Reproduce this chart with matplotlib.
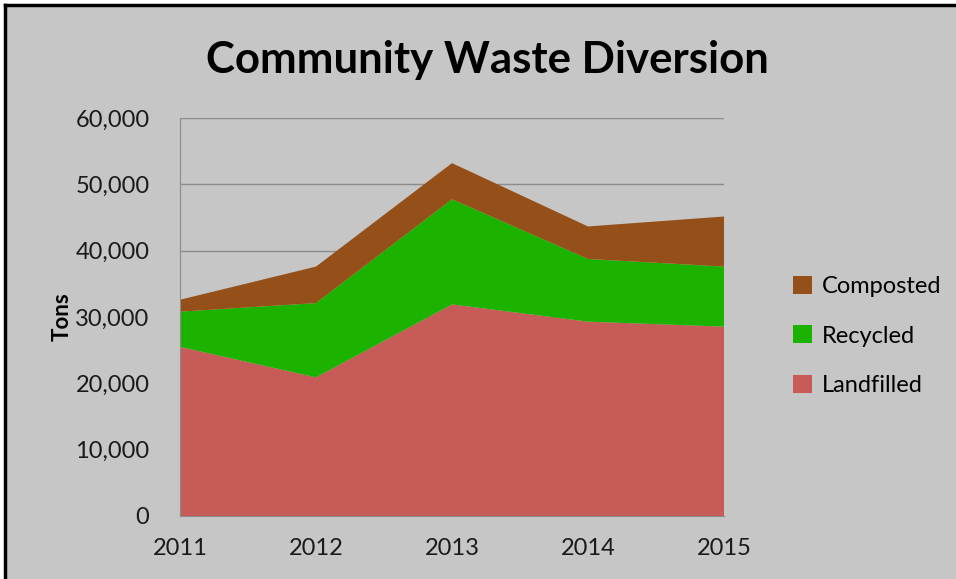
import matplotlib
matplotlib.use("Agg")
import matplotlib.pyplot as plt
from matplotlib.patches import Patch
from matplotlib.lines import Line2D
from matplotlib.ticker import FuncFormatter

years = [2011, 2012, 2013, 2014, 2015]
landfilled = [25500, 20900, 31900, 29300, 28550]
recycled = [5300, 11200, 15850, 9450, 9050]
composted = [1800, 5500, 5450, 4900, 7550]
series_names = ["Landfilled", "Recycled", "Composted"]
colors = ["#C75B58", "#1BB300", "#955019"]
bg = "#C6C6C6"

plt.rcParams['font.family'] = ['Lato', 'DejaVu Sans']

fig = plt.figure(figsize=(9.56, 5.79), dpi=100)
fig.patch.set_facecolor("white")
# gray chart area with black border on top/left
fig.patches.append(plt.Rectangle((6/956, 0), 1, 1 - 6/579, transform=fig.transFigure,
                                 facecolor=bg, edgecolor="none", zorder=-2))
fig.lines.append(Line2D([5/956, 1], [1 - 5/579, 1 - 5/579], transform=fig.transFigure,
                        color="black", lw=2.5))
fig.lines.append(Line2D([5/956, 5/956], [0, 1 - 5/579], transform=fig.transFigure,
                        color="black", lw=2.5))

ax = fig.add_axes([180/956, 1 - 516/579, (724 - 180)/956, (516 - 118)/579])
ax.set_facecolor(bg)
ax.stackplot(years, landfilled, recycled, composted, colors=colors, labels=series_names,
             zorder=2)
ax.set_xlim(2011, 2015)
ax.set_ylim(0, 60000)
ax.set_yticks(range(0, 60001, 10000))
ax.yaxis.set_major_formatter(FuncFormatter(lambda v, p: f"{int(v):,}"))
ax.set_xticks(years)
ax.grid(axis="y", color="#8C8C8C", lw=1, zorder=1)
ax.set_axisbelow(True)
for s in ["top", "right"]:
    ax.spines[s].set_visible(False)
for s in ["left", "bottom"]:
    ax.spines[s].set_color("#8C8C8C")
    ax.spines[s].set_zorder(3)
ax.tick_params(axis="both", length=0, labelsize=17, colors="#1A1A1A")
ax.tick_params(axis="y", pad=22)
ax.tick_params(axis="x", pad=16)
ax.set_ylabel("Tons", fontsize=16, fontweight="bold")
ax.yaxis.set_label_coords(-0.198, 0.5)

fig.text(487/956, 1 - 60/579, "Community Waste Diversion", ha="center", va="center",
         fontsize=31.5, fontweight="bold", color="black")

handles = [Patch(facecolor=c, edgecolor="none") for c in colors]
leg = fig.legend(handles[::-1], series_names[::-1], loc="center left",
                 bbox_to_anchor=(772/956, 1 - 336/579), frameon=False, fontsize=17,
                 handlelength=0.8, handleheight=0.8, handletextpad=0.4,
                 labelspacing=1.2)

fig.savefig("out.png", dpi=100)
